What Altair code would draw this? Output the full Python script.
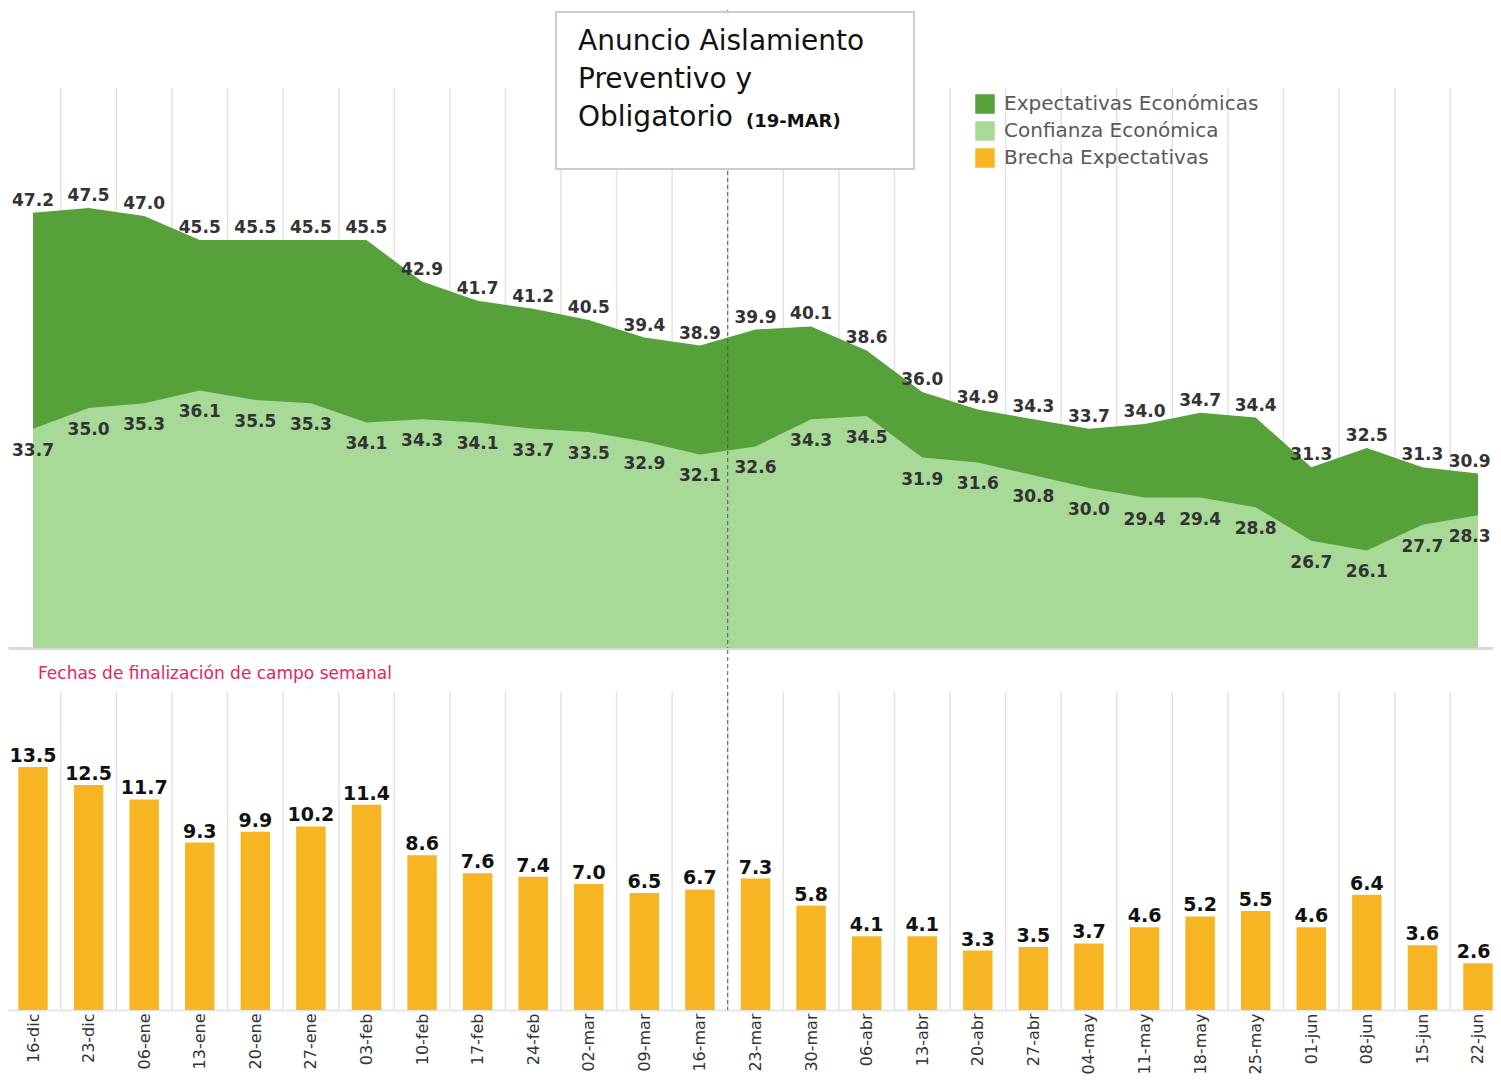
import json
import altair as alt
import pandas as pd

categories = ["16-dic", "23-dic", "06-ene", "13-ene", "20-ene", "27-ene", "03-feb", "10-feb",
              "17-feb", "24-feb", "02-mar", "09-mar", "16-mar", "23-mar", "30-mar", "06-abr",
              "13-abr", "20-abr", "27-abr", "04-may", "11-may", "18-may", "25-may", "01-jun",
              "08-jun", "15-jun", "22-jun"]
expectativas = [47.2, 47.5, 47.0, 45.5, 45.5, 45.5, 45.5, 42.9, 41.7, 41.2, 40.5, 39.4, 38.9,
                39.9, 40.1, 38.6, 36.0, 34.9, 34.3, 33.7, 34.0, 34.7, 34.4, 31.3, 32.5, 31.3, 30.9]
confianza = [33.7, 35.0, 35.3, 36.1, 35.5, 35.3, 34.1, 34.3, 34.1, 33.7, 33.5, 32.9, 32.1,
             32.6, 34.3, 34.5, 31.9, 31.6, 30.8, 30.0, 29.4, 29.4, 28.8, 26.7, 26.1, 27.7, 28.3]
brecha = [13.5, 12.5, 11.7, 9.3, 9.9, 10.2, 11.4, 8.6, 7.6, 7.4, 7.0, 6.5, 6.7, 7.3, 5.8, 4.1,
          4.1, 3.3, 3.5, 3.7, 4.6, 5.2, 5.5, 4.6, 6.4, 3.6, 2.6]

series_names = ["Expectativas Económicas", "Confianza Económica", "Brecha Expectativas"]
series_colors = ["#56A13A", "#A6DA96", "#F7B524"]

annot_lines = ["Anuncio Aislamiento", "Preventivo y", "Obligatorio"]
annot_bold = "(19-MAR)"
note_text = "Fechas de finalización de campo semanal"
event_position = 12.5  # between 16-mar and 23-mar

n = len(categories)
last = n - 1
long_df = pd.DataFrame({
    "idx": list(range(n)) * 2,
    "val": expectativas + confianza,
    "series": [series_names[0]] * n + [series_names[1]] * n,
})
bar_df = pd.DataFrame({"idx": list(range(n)), "cat": categories, "val": brecha})
grid_df = pd.DataFrame({"g": [i + 0.5 for i in range(n - 1)]})
one = alt.Data(values=[{"k": 0}])

W = 1485
TOP_H = 640
BOT_H = 360
FONT = "DejaVu Sans"

xscale = alt.Scale(domain=[-0.45, 26.27], nice=False, zero=False)
color_scale = alt.Scale(domain=series_names, range=series_colors)
top_y = alt.Scale(domain=[20, 60], nice=False, zero=False)
bot_y = alt.Scale(domain=[0, BOT_H / 18.0], nice=False)

AX_TOP = alt.Axis(labels=False, ticks=False, grid=False, domainColor="#d9d9d9",
                  domainWidth=3, title=None)
label_expr = json.dumps(categories) + "[datum.value]"
AX_BOT = alt.Axis(values=list(range(n)), labelExpr=label_expr, labelAngle=270,
                  labelFontSize=16, labelFont=FONT, labelColor="#333333", ticks=False,
                  grid=False, domainColor="#e6e6e6", domainWidth=2, labelPadding=3,
                  title=None, labelOverlap=False)

# ---------- top chart ----------
grid_top = alt.Chart(grid_df).mark_rule(color="#e3e3e3", strokeWidth=1.5).encode(
    x=alt.X("g:Q", scale=xscale, axis=AX_TOP),
    y=alt.Y(datum=55, scale=top_y, axis=None),
    y2=alt.datum(20),
)

legend = alt.Legend(orient="none", legendX=967, legendY=86, title=None, symbolType="square",
                    symbolSize=380, symbolStrokeWidth=0, symbolOpacity=1, labelFontSize=20,
                    labelFont=FONT, labelColor="#595959", rowPadding=7, labelLimit=500,
                    labelOffset=9)


def area_layer(name):
    return alt.Chart(long_df).transform_filter(alt.datum.series == name).mark_area(
        opacity=1, interpolate="linear").encode(
        x=alt.X("idx:Q", scale=xscale, axis=AX_TOP),
        y=alt.Y("val:Q", scale=top_y, axis=None),
        y2=alt.datum(20),
        color=alt.Color("series:N", scale=color_scale, legend=legend),
    )


def label_layer(name, dy):
    # the label of the last week is nudged left so that it stays inside the page
    return alt.Chart(long_df).transform_filter(alt.datum.series == name).transform_calculate(
        lx=f"datum.idx == {last} ? datum.idx - 0.15 : datum.idx"
    ).mark_text(
        font=FONT, fontWeight="bold", fontSize=17, color="#333333", dy=dy,
        baseline="middle", align="center").encode(
        x=alt.X("lx:Q", scale=xscale, axis=AX_TOP),
        y=alt.Y("val:Q", scale=top_y, axis=None),
        text=alt.Text("val:Q", format=".1f"),
    )


event_top = alt.Chart(one).mark_rule(color="#555555", strokeDash=[4, 3], strokeWidth=1).encode(
    x=alt.X(datum=event_position, scale=xscale, axis=AX_TOP),
    y=alt.value(2),
    y2=alt.value(TOP_H),
)

box = alt.Chart(one).mark_rect(fill="white", stroke="#cccccc", strokeWidth=2).encode(
    x=alt.value(548), x2=alt.value(906), y=alt.value(4), y2=alt.value(161)
)

annot_layers = []
for i, line in enumerate(annot_lines):
    annot_layers.append(
        alt.Chart(one).mark_text(text=line, font=FONT, fontSize=28, color="#111111",
                                 align="left", baseline="middle").encode(
            x=alt.value(570), y=alt.value(34 + 38 * i))
    )
annot_layers.append(
    alt.Chart(one).mark_text(text=annot_bold, font=FONT, fontSize=18, fontWeight="bold",
                             color="#111111", align="left", baseline="middle").encode(
        x=alt.value(738), y=alt.value(114))
)

top = alt.layer(
    grid_top,
    area_layer(series_names[0]),
    area_layer(series_names[1]),
    label_layer(series_names[0], -12),
    label_layer(series_names[1], 22),
    event_top,
    box,
    *annot_layers,
).properties(width=W, height=TOP_H)

# ---------- bottom chart ----------
grid_bot = alt.Chart(grid_df).mark_rule(color="#e3e3e3", strokeWidth=1.5).encode(
    x=alt.X("g:Q", scale=xscale, axis=AX_BOT),
    y=alt.Y(datum=17.7, scale=bot_y, axis=None),
    y2=alt.datum(0),
)

bars = alt.Chart(bar_df).transform_calculate(
    x0="datum.idx - 0.265", x1="datum.idx + 0.265"
).mark_bar(color=series_colors[2]).encode(
    x=alt.X("x0:Q", scale=xscale, axis=AX_BOT),
    x2="x1:Q",
    y=alt.Y("val:Q", scale=bot_y, axis=None),
    y2=alt.datum(0),
)

bar_labels = alt.Chart(bar_df).transform_calculate(
    lx=f"datum.idx == {last} ? datum.idx - 0.08 : datum.idx"
).mark_text(
    font=FONT, fontWeight="bold", fontSize=19, color="#111111", dy=-11,
    baseline="middle", align="center").encode(
    x=alt.X("lx:Q", scale=xscale, axis=AX_BOT),
    y=alt.Y("val:Q", scale=bot_y, axis=None),
    text=alt.Text("val:Q", format=".1f"),
)

event_bot = alt.Chart(one).mark_rule(color="#555555", strokeDash=[4, 3], strokeWidth=1).encode(
    x=alt.X(datum=event_position, scale=xscale, axis=AX_BOT),
    y=alt.value(0),
    y2=alt.value(BOT_H),
)

note = alt.Chart(one).mark_text(text=note_text, font=FONT, fontSize=17, color="#E8235E",
                                align="left", baseline="middle").encode(
    x=alt.value(30), y=alt.value(24))

bottom = alt.layer(grid_bot, bars, bar_labels, event_bot, note).properties(
    width=W, height=BOT_H)

chart = alt.vconcat(top, bottom, spacing=0).properties(
    padding=0, background="white"
).configure_view(stroke=None)

chart.save("out.html", embed_options={"renderer": "svg", "actions": False})
